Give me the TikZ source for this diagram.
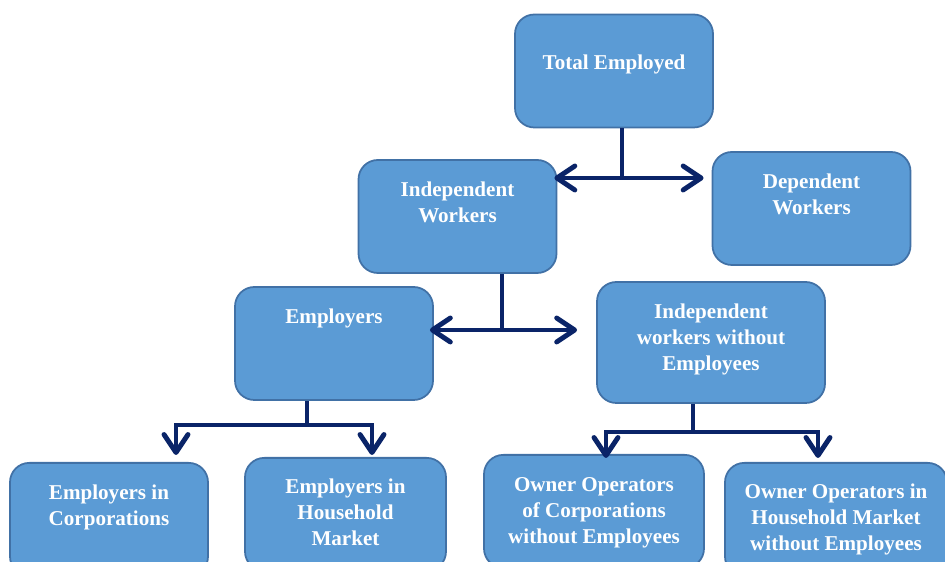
\documentclass[tikz,border=0pt]{standalone}
\usepackage{fontspec}
\setmainfont{Liberation Serif}
\usepackage{tikz}
\usetikzlibrary{arrows.meta,positioning}
\definecolor{boxfill}{RGB}{91,155,213}
\definecolor{boxline}{RGB}{65,113,166}
\definecolor{navy}{RGB}{10,36,104}
\tikzset{
  catbox/.style={rectangle,rounded corners=11pt,draw=boxline,line width=1pt,fill=boxfill,
    minimum width=3.96cm,minimum height=2.26cm},
  cattext/.style={inner sep=0pt,align=center,text=white,font=\fontsize{12}{14.8}\selectfont\bfseries},
  branch/.style={draw=navy,line width=2.8pt},
  barb/.tip={Straight Barb[length=3.6mm,width=4.8mm,round]},
  branchtip/.style={branch,-barb},
}
\begin{document}
\begin{tikzpicture}
\useasboundingbox (0,0) rectangle (18.9,-11.24);
\clip (0,0) rectangle (18.9,-11.24);

% --- boxes ---
\node[catbox] (te) at (12.28,-1.42) {};
\node[catbox] (iw) at (9.15,-4.33) {};
\node[catbox] (dw) at (16.23,-4.17) {};
\node[catbox] (emp) at (6.68,-6.87) {};
\node[catbox,minimum width=4.56cm,minimum height=2.42cm] (iwe) at (14.22,-6.85) {};
\node[catbox,anchor=north] (ecorp) at (2.18,-9.24) {};
\node[catbox,anchor=north,minimum width=4.02cm] (ehh) at (6.91,-9.14) {};
\node[catbox,anchor=north,minimum width=4.4cm] (ocorp) at (11.88,-9.08) {};
\node[catbox,anchor=north,minimum width=4.44cm] (ohh) at (16.72,-9.24) {};

% --- labels (set near the top of each box) ---
\node[cattext,below=0.82cm of te.north] (te-t) {Total Employed};
\node[cattext,below=0.44cm of iw.north] (iw-t) {Independent\\Workers};
\node[cattext,below=0.44cm of dw.north] (dw-t) {Dependent\\Workers};
\node[cattext,below=0.44cm of emp.north] (emp-t) {Employers};
\node[cattext,below=0.44cm of iwe.north] (iwe-t) {Independent\\workers without\\Employees};
\node[cattext,below=0.46cm of ecorp.north] (ecorp-t) {Employers in\\Corporations};
\node[cattext,below=0.44cm of ehh.north] (ehh-t) {Employers in\\Household\\Market};
\node[cattext,below=0.46cm of ocorp.north] (ocorp-t) {Owner Operators\\of Corporations\\without Employees};
\node[cattext,below=0.44cm of ohh.north] (ohh-t) {Owner Operators in\\Household Market\\without Employees};

% --- split under Total Employed ---
\coordinate (j1) at (12.44,-3.56);
\draw[branch] (te.south -| j1) -- (j1);
\draw[branch,barb-barb,shorten <=-0.06cm,shorten >=0.16cm] (iw.east |- j1) -- (dw.west |- j1);

% --- split under Independent Workers ---
\coordinate (j2) at (10.04,-6.6);
\draw[branch] (iw.south -| j2) -- (j2);
\draw[branch,barb-barb,shorten <=-0.08cm,shorten >=0.38cm] (emp.east |- j2) -- (iwe.west |- j2);

% --- split under Employers ---
\coordinate (j3) at (6.14,-8.5);
\draw[branch] (emp.south -| j3) -- (j3);
\draw[branchtip,shorten >=0.14cm] (j3) -| ([xshift=1.34cm]ecorp.north);
\draw[branchtip,shorten >=0.04cm] (j3) -| ([xshift=0.53cm]ehh.north);

% --- split under Independent workers without Employees ---
\coordinate (j4) at (13.86,-8.64);
\draw[branch] (iwe.south -| j4) -- (j4);
\draw[branchtip,shorten >=-0.08cm] (j4) -| ([xshift=0.24cm]ocorp.north);
\draw[branchtip,shorten >=0.08cm] (j4) -| ([xshift=-0.36cm]ohh.north);
\end{tikzpicture}
\end{document}
